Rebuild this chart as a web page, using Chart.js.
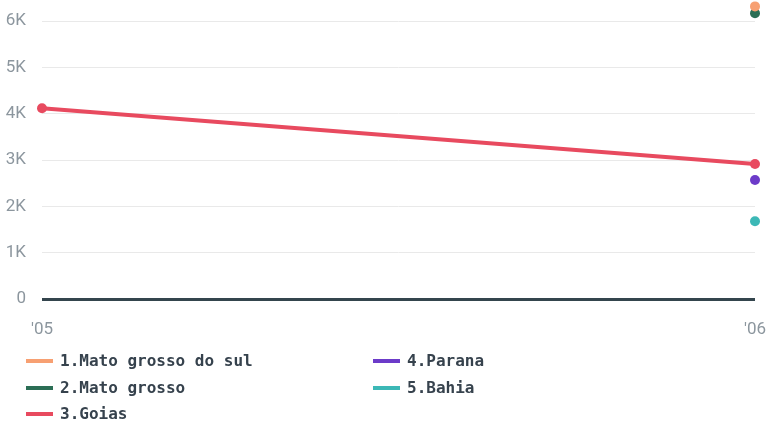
<!DOCTYPE html>
<html>
<head>
<meta charset="utf-8">
<script src="https://cdn.jsdelivr.net/npm/chart.js@4"></script>
<style>
  html, body { margin: 0; padding: 0; background: #fff; }
  #wrap { width: 770px; height: 424px; position: relative; }
</style>
</head>
<body>
<div id="wrap"><canvas id="myChart" width="770" height="424"></canvas></div>
<script>
// years on the x axis
var years = ["'05", "'06"];
// series values (null where no data)
var matoGrossoDoSul = [null, 6320];
var matoGrosso = [null, 6170];
var goias = [4120, 2915];
var parana = [null, 2570];
var bahia = [null, 1680];
var yTicks = [0, 1000, 2000, 3000, 4000, 5000, 6000];
var yTickLabels = ['0', '1K', '2K', '3K', '4K', '5K', '6K'];

window.onload = function () {
    var ctx = document.getElementById('myChart').getContext('2d');

    function series(label, data, color) {
        return {
            label: label,
            data: data,
            borderColor: color,
            backgroundColor: color,
            borderWidth: 4,
            pointRadius: 5,
            pointHoverRadius: 5,
            pointBorderWidth: 0,
            fill: false,
            spanGaps: false
        };
    }

    // legend drawn in two columns below the plot
    var legendPlugin = {
        id: 'colLegend',
        afterDraw: function (chart) {
            var c = chart.ctx;
            var sets = chart.data.datasets;
            var cols = [{ line: 26, text: 60 }, { line: 373, text: 407 }];
            var rows = [361, 388, 414];
            c.save();
            c.font = 'bold 16px "DejaVu Sans Mono"';
            c.textBaseline = 'middle';
            for (var i = 0; i < sets.length; i++) {
                var col = cols[Math.floor(i / 3)];
                var y = rows[i % 3];
                c.strokeStyle = sets[i].borderColor;
                c.lineWidth = 4;
                c.beginPath();
                c.moveTo(col.line, y);
                c.lineTo(col.line + 27, y);
                c.stroke();
                c.fillStyle = '#36424d';
                c.fillText(sets[i].label, col.text, y + 1);
            }
            c.restore();
        }
    };

    new Chart(ctx, {
        type: 'line',
        data: {
            labels: years,
            datasets: [
                series('1.Mato grosso do sul', matoGrossoDoSul, '#f7a072'),
                series('2.Mato grosso', matoGrosso, '#2b6e55'),
                series('3.Goias', goias, '#e84a5f'),
                series('4.Parana', parana, '#6c3bc9'),
                series('5.Bahia', bahia, '#3cb8b6')
            ]
        },
        options: {
            responsive: false,
            animation: false,
            clip: false,
            layout: { padding: { top: 0, right: 15, bottom: 85, left: 0 } },
            plugins: {
                legend: { display: false },
                tooltip: { enabled: false }
            },
            scales: {
                x: {
                    offset: false,
                    grid: { display: false, drawTicks: false },
                    border: { display: false },
                    ticks: {
                        color: '#8c969e',
                        font: { family: 'Roboto', size: 17 },
                        padding: 21,
                        maxRotation: 0
                    },
                    afterFit: function (scale) {
                        scale.height = 40;
                        scale.paddingLeft = 0;
                        scale.paddingRight = 0;
                    }
                },
                y: {
                    min: 0,
                    max: 6350,
                    afterBuildTicks: function (scale) {
                        scale.ticks = yTicks.map(function (v) { return { value: v }; });
                    },
                    grid: {
                        drawTicks: false,
                        color: function (c) { return c.tick && c.tick.value === 0 ? '#34454d' : '#e9e9e9'; },
                        lineWidth: function (c) { return c.tick && c.tick.value === 0 ? 3 : 1; }
                    },
                    border: { display: false },
                    ticks: {
                        color: '#8c969e',
                        font: { family: 'Roboto', size: 17 },
                        padding: 16,
                        callback: function (v) {
                            var i = yTicks.indexOf(v);
                            return i >= 0 ? yTickLabels[i] : '';
                        }
                    },
                    afterFit: function (scale) {
                        scale.width = 42;
                        scale.paddingTop = 0;
                        scale.paddingBottom = 0;
                    }
                }
            }
        },
        plugins: [legendPlugin]
    });
};
</script>
</body>
</html>
